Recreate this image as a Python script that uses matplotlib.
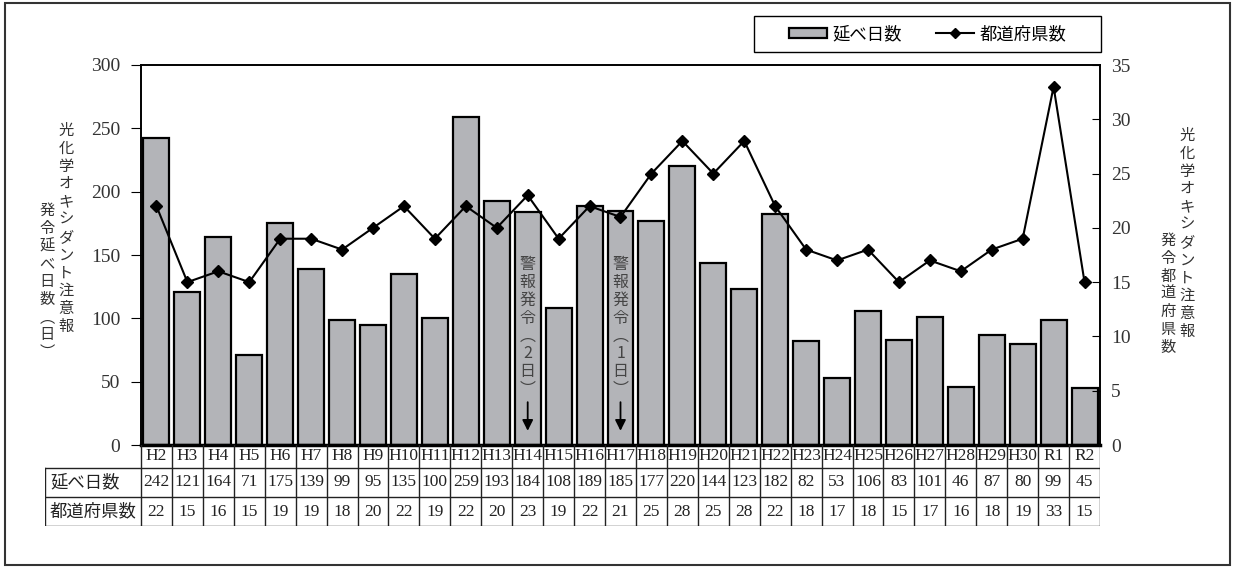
import matplotlib
matplotlib.use("Agg")
import matplotlib.pyplot as plt
from matplotlib.patches import Rectangle, Patch
from matplotlib.lines import Line2D

plt.rcParams['font.family'] = ['Liberation Serif', 'Noto Sans CJK JP']

# データ
nendo = ["H2", "H3", "H4", "H5", "H6", "H7", "H8", "H9", "H10", "H11",
         "H12", "H13", "H14", "H15", "H16", "H17", "H18", "H19", "H20", "H21",
         "H22", "H23", "H24", "H25", "H26", "H27", "H28", "H29", "H30", "R1", "R2"]
nobe_nissu = [242, 121, 164, 71, 175, 139, 99, 95, 135, 100,
              259, 193, 184, 108, 189, 185, 177, 220, 144, 123,
              182, 82, 53, 106, 83, 101, 46, 87, 80, 99, 45]
todofuken = [22, 15, 16, 15, 19, 19, 18, 20, 22, 19,
             22, 20, 23, 19, 22, 21, 25, 28, 25, 28,
             22, 18, 17, 18, 15, 17, 16, 18, 19, 33, 15]
keiho = {"H14": "警報発令（2日）", "H17": "警報発令（1日）"}

W, H = 1234, 567
fig = plt.figure(figsize=(W / 100, H / 100), dpi=100)

def fx(px):
    return px / W

def fy(py):
    return 1 - py / H

def tate(s):
    # 縦書き用
    s = s.replace("（", "︵").replace("）", "︶")
    return "\n".join(s)

# 外枠
fig.patches.append(Rectangle((fx(5), fy(565)), fx(1230) - fx(5), fy(3) - fy(565),
                             transform=fig.transFigure, fill=False,
                             edgecolor='#333333', lw=1.5))

ax = fig.add_axes([fx(141), fy(445), fx(1100) - fx(141), fy(65) - fy(445)])
x = list(range(len(nendo)))
ax.bar(x, nobe_nissu, width=0.84, color='#b3b4b8', edgecolor='black', lw=1.6, zorder=2)
ax.set_xlim(-0.5, len(nendo) - 0.5)
ax.set_ylim(0, 300)
ax.set_yticks(range(0, 301, 50))
ax.set_xticks([])
ax.tick_params(axis='y', direction='out', length=7, pad=8, labelsize=14,
               labelcolor='#333333', color='black')
for s in ax.spines.values():
    s.set_linewidth(1.2)
ax.spines['bottom'].set_linewidth(2.5)

for nen, txt in keiho.items():
    i = nendo.index(nen)
    ax.text(i, 149, tate(txt), ha='center', va='top', fontsize=11.5,
            family='Noto Sans CJK JP', color='#444444', linespacing=1.06, zorder=3)
    ax.annotate("", xy=(i, 9), xytext=(i, 36),
                arrowprops=dict(arrowstyle='-|>', color='black', lw=1.3,
                                mutation_scale=16), zorder=3)

ax2 = ax.twinx()
ax2.plot(x, todofuken, color='black', lw=1.5, marker='D', markersize=6.5, zorder=4)
ax2.set_ylim(0, 35)
ax2.set_yticks(range(0, 36, 5))
ax2.tick_params(axis='y', direction='in', length=6, pad=8, labelsize=14, labelcolor='#333333')
for s in ax2.spines.values():
    s.set_linewidth(1.2)

# 軸ラベル(縦書き)
lab_kw = dict(ha='center', va='top', fontsize=11, family='Noto Sans CJK JP',
              color='#333333', linespacing=1.06)
fig.text(fx(66), fy(122), tate("光化学オキシダント注意報"), **lab_kw)
fig.text(fx(47), fy(202), tate("発令延べ日数（日）"), **lab_kw)
fig.text(fx(1187), fy(127), tate("光化学オキシダント注意報"), **lab_kw)
fig.text(fx(1168), fy(232), tate("発令都道府県数"), **lab_kw)

# 凡例
fig.patches.append(Rectangle((fx(754), fy(52)), fx(1101) - fx(754), fy(16) - fy(52),
                             transform=fig.transFigure, fill=False,
                             edgecolor='black', lw=1.0))
handles = [Patch(facecolor='#b3b4b8', edgecolor='black', lw=1.6),
           Line2D([], [], color='black', lw=1.5, marker='D', markersize=5.5)]
fig.legend(handles, ["延べ日数", "都道府県数"], loc='center',
           bbox_to_anchor=((fx(754) + fx(1101)) / 2, (fy(16) + fy(52)) / 2),
           ncol=2, frameon=False, handlelength=2.2,
           handleheight=0.5, handletextpad=0.3, columnspacing=2.0,
           prop={'family': 'Noto Sans CJK JP', 'size': 12.5})

# 表
cw = (1100 - 141) / len(nendo)
xl = -0.5 - (141 - 45) / cw
tb = fig.add_axes([fx(45), fy(526), fx(1100) - fx(45), fy(445) - fy(526)])
tb.set_xlim(xl, len(nendo) - 0.5)
tb.set_ylim(81, 0)
tb.axis('off')
rows = [0, 23, 52, 81]
for yy in rows[1:]:
    tb.plot([xl, len(nendo) - 0.5], [yy, yy], color='#222222', lw=1.0)
tb.plot([xl, xl], [23, 81], color='#222222', lw=1.0)
for i in range(len(nendo) + 1):
    tb.plot([i - 0.5, i - 0.5], [0, 81], color='#222222', lw=1.0)
for i in x:
    tb.text(i, 11.5, nendo[i], ha='center', va='center', fontsize=12.5, color='#222222')
    tb.text(i, 37.5, str(nobe_nissu[i]), ha='center', va='center', fontsize=12.5, color='#222222')
    tb.text(i, 66.5, str(todofuken[i]), ha='center', va='center', fontsize=12.5, color='#222222')
tb.text(xl + 0.16, 37.5, "延べ日数", ha='left', va='center', fontsize=12.5,
        family='Noto Sans CJK JP', color='#222222')
tb.text(xl + 0.16, 66.5, "都道府県数", ha='left', va='center', fontsize=12.5,
        family='Noto Sans CJK JP', color='#222222')

fig.savefig("out.png", dpi=100)
